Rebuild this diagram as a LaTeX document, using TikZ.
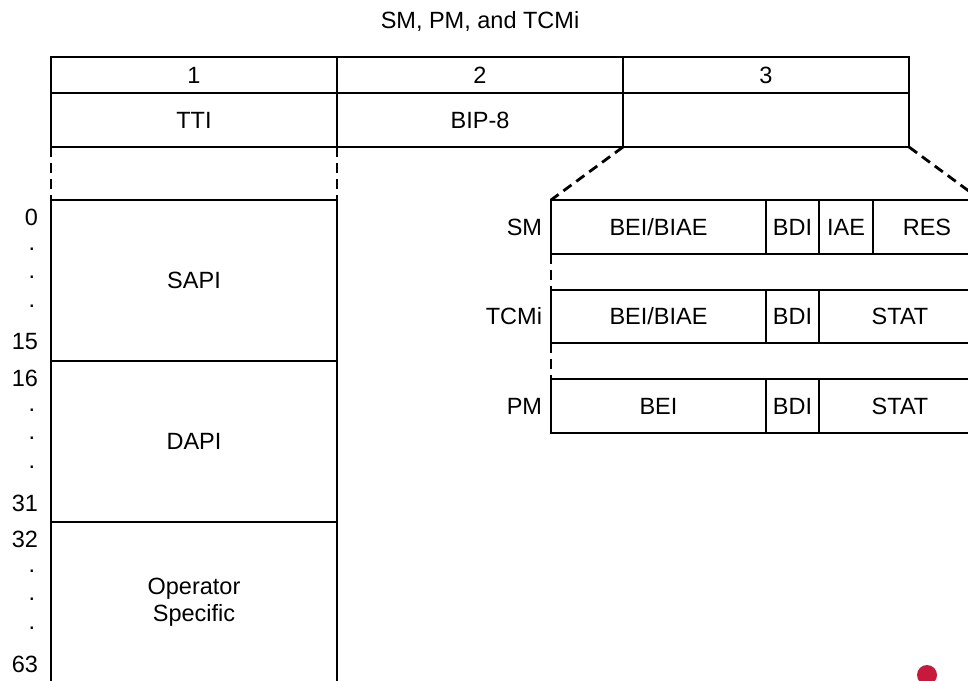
\documentclass[tikz,border=0pt]{standalone}
\usepackage{fontspec}
\setmainfont{Liberation Sans}
\definecolor{dotred}{RGB}{200,25,60}
\begin{document}
\begin{tikzpicture}[x=1pt,y=-1pt,
  every node/.style={font=\fontsize{23.5}{27}\selectfont, inner sep=0pt, outer sep=0pt},
  cell/.style 2 args={draw, line width=1.2pt, anchor=north west, minimum width=#1, minimum height=#2, align=center},
  lbl/.style={anchor=east},
  dotlbl/.style={anchor=base},
  conn/.style={line width=2.8pt, dash pattern=on 10pt off 6pt}]
\useasboundingbox (0,0) rectangle (968,680);
\clip (0,0) rectangle (968,680);
% title
\node[anchor=base] (title) at (480,28.3) {SM, PM, and TCMi};
% header table
\node[cell={286pt}{36pt}] (h1) at (51,57) {1};
\node[cell={286pt}{36pt}] (h2) at (337,57) {2};
\node[cell={286pt}{36pt}] (h3) at (623,57) {3};
\node[cell={286pt}{54pt}] (f1) at (51,93) {TTI};
\node[cell={286pt}{54pt}] (f2) at (337,93) {BIP-8};
\node[cell={286pt}{54pt}] (f3) at (623,93) {};
% TTI column
\node[cell={286pt}{161pt}] (sapi) at (51,200) {SAPI};
\node[cell={286pt}{161pt}] (dapi) at (51,361) {DAPI};
\node[cell={286pt}{161pt}] (ops) at (51,522) {Operator\\Specific};
% byte numbers
\node[lbl] (n0) at (38,217) {0};
\node[dotlbl] (d1) at (32,250.5) {.};
\node[dotlbl] (d2) at (32,278.5) {.};
\node[dotlbl] (d3) at (32,307.5) {.};
\node[lbl] (n15) at (38,342) {15};
\node[lbl] (n16) at (38,378) {16};
\node[dotlbl] (d4) at (32,411.5) {.};
\node[dotlbl] (d5) at (32,439.5) {.};
\node[dotlbl] (d6) at (32,468.5) {.};
\node[lbl] (n31) at (38,503) {31};
\node[lbl] (n32) at (38,539) {32};
\node[dotlbl] (d7) at (32,572.5) {.};
\node[dotlbl] (d8) at (32,600.5) {.};
\node[dotlbl] (d9) at (32,629.5) {.};
\node[lbl] (n63) at (38,664) {63};
% SM row
\node[cell={215pt}{54pt}] (smA) at (551,200) {BEI/BIAE};
\node[cell={53pt}{54pt}] (smB) at (766,200) {BDI};
\node[cell={54pt}{54pt}] (smC) at (819,200) {IAE};
\node[cell={108pt}{54pt}] (smD) at (873,200) {RES};
% TCMi row
\node[cell={215pt}{53pt}] (tcA) at (551,290) {BEI/BIAE};
\node[cell={53pt}{53pt}] (tcB) at (766,290) {BDI};
\node[cell={162pt}{53pt}] (tcC) at (819,290) {STAT};
% PM row
\node[cell={215pt}{54pt}] (pmA) at (551,379) {BEI};
\node[cell={53pt}{54pt}] (pmB) at (766,379) {BDI};
\node[cell={162pt}{54pt}] (pmC) at (819,379) {STAT};
% row labels
\node[lbl] (smL) at ([xshift=-9pt]smA.west) {SM};
\node[lbl] (tcL) at ([xshift=-9pt]tcA.west) {TCMi};
\node[lbl] (pmL) at ([xshift=-9pt]pmA.west) {PM};
% dashed connectors
\draw[conn] (f1.south west) -- (sapi.north west);
\draw[conn] (f1.south east) -- (sapi.north east);
\draw[conn] (f3.south west) -- (smA.north west);
\draw[conn] (f3.south east) -- (smD.north east);
\draw[conn] (smA.south west) -- (tcA.north west);
\draw[conn] (tcA.south west) -- (pmA.north west);
% red dot
\node[circle, fill=dotred, minimum size=20pt] (rdot) at (927,675) {};
\end{tikzpicture}
\end{document}
